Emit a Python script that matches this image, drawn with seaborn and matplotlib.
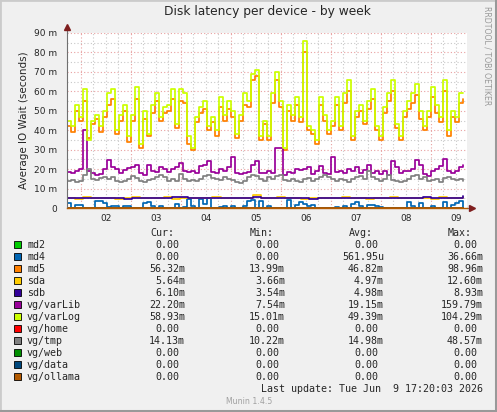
import numpy as np
import pandas as pd
import seaborn as sns
import matplotlib.pyplot as plt
from matplotlib.patches import Rectangle

# series in munin draw order (later ones end up on top)
series_names = ["md2", "md4", "md5", "sda", "sdb", "vg/varLib", "vg/varLog",
                "vg/home", "vg/tmp", "vg/web", "vg/data", "vg/ollama"]
series_colors = ["#00CC00", "#0066B3", "#FF8000", "#FFCC00", "#330099", "#990099",
                 "#CCFF00", "#FF0000", "#808080", "#008F00", "#00487D", "#B35A00"]

# values in milliseconds (week: Jun 1 17:20 -> Jun 9 17:20)
md2 = [0.0, 0.0]
md4 = [2.4, 0, 1.5, 1.5, 0, 0, 0, 3.8, 3.5, 2.5, 0.5, 1, 1, 0, 1, 1, 0, 0, 0, 2.8, 3.2, 1, 0, 1, 0,
       0, 0, 2, 0, 0.5, 4.5, 1, 0, 4.5, 2, 5, 0, 0, 0.5, 1, 0, 1, 0, 0, 1, 3.5, 4, 0, 3.8, 0,
       1, 0, 0, 0, 0, 4, 0, 1.5, 3, 2, 1, 1.5, 0, 0, 0, 0, 0, 0.5, 0, 1, 0, 2, 3, 1, 0,
       1.5, 1.5, 1, 0.5, 0, 0, 0, 0, 0, 0, 3, 1, 0, 2.5, 0, 0, 1, 0, 0, 3, 0, 1.5, 2.5, 3.5, 0]
md5 = [42, 39, 50, 45, 55, 36, 43, 46, 39, 47, 53, 56, 38, 45, 50, 34, 45, 56, 31, 46, 37, 49, 55, 45, 49,
       50, 56, 41, 55, 54, 33, 30, 44, 49, 51, 40, 44, 37, 52, 45, 51, 47, 36, 45, 53, 52, 66, 68, 35, 43,
       35, 54, 66, 52, 30, 50, 45, 53, 44, 80, 40, 38, 33, 53, 45, 38, 42, 53, 40, 54, 60, 35, 47, 50, 43,
       51, 56, 40, 35, 49, 55, 60, 41, 35, 47, 51, 54, 58, 46, 40, 47, 57, 49, 44, 60, 37, 47, 44, 54, 56]
sda = [4.9, 4.8, 5.6, 4.9, 5.0, 4.9, 4.8, 5.0, 5.5, 4.9, 5.0, 4.9, 5.6, 4.8, 4.9, 5.0, 4.9, 5.0, 5.7, 4.9,
       5.0, 4.9, 5.0, 6.5, 5.0, 4.9, 5.6, 4.9, 5.0, 4.8, 4.9, 5.0, 5.0, 4.9, 5.5, 5.0, 4.9, 4.8, 5.0, 4.9,
       5.5, 4.9, 5.0, 4.9, 5.0, 4.8, 5.6, 4.9, 5.0, 5.6]
sdb = [5.0, 4.9, 5.1, 4.9, 5.0, 5.2, 5.0, 4.8, 4.9, 5.0, 5.1, 5.0, 4.9, 5.6, 5.8, 5.0, 4.9, 5.0, 5.1, 5.0,
       4.9, 5.0, 5.0, 5.9, 5.3, 5.0, 4.9, 5.0, 5.2, 5.0, 4.8, 4.9, 5.0, 5.1, 5.0, 4.9, 5.0, 5.0, 4.9, 5.1,
       5.0, 5.0, 4.9, 5.2, 5.5, 5.0, 4.9, 5.0, 5.1, 6.1]
var_lib = [18.5, 18, 19, 20, 40, 19, 18, 17, 17.5, 20, 24.5, 21, 20, 18, 19.5, 20.5, 21, 22, 18, 17, 22, 19, 18.5, 21, 20,
           18.5, 20, 21, 23, 19, 18.5, 19, 18, 21.5, 22, 24, 18.5, 18, 20, 19, 21, 26, 18, 17.5, 18, 18.5, 22, 24, 18, 18,
           19, 18, 31, 31, 17, 18.5, 18, 20, 19.5, 20, 21, 17.5, 19, 21.5, 18, 17.5, 26, 18.5, 19, 18, 20, 19, 21, 18, 19.5,
           22, 18, 19, 17.5, 19, 17, 24, 21, 18, 19, 19, 20, 24.5, 22, 17.5, 16.5, 19, 20, 21.5, 25, 19, 18, 19, 21, 22.2]
var_log = [45, 42, 53, 47, 61, 35, 45, 48, 42, 50, 59, 61, 40, 48, 53, 37, 48, 62, 33, 50, 38, 53, 59, 47, 52,
           53, 61, 43, 61, 59, 37, 31, 47, 52, 55, 42, 47, 40, 57, 48, 55, 50, 38, 48, 59, 55, 69, 71, 37, 45,
           37, 59, 70, 55, 31, 53, 48, 57, 47, 86, 42, 40, 35, 57, 48, 40, 45, 57, 42, 59, 66, 37, 50, 53, 45,
           55, 61, 42, 37, 52, 59, 66, 43, 37, 50, 55, 59, 64, 50, 42, 50, 62, 53, 47, 66, 40, 50, 47, 59, 58.9]
home = [0.0, 0.0]
tmp = [14, 14.5, 13.5, 14, 17, 20, 15, 14.5, 15.5, 16, 15, 16, 14, 13.5, 14, 15, 16.5, 15.5, 14, 13.5, 14.5, 15, 16, 17, 16,
       14, 15, 14, 17.5, 15, 14, 14.5, 14, 15, 16.5, 17, 15.5, 15, 14.5, 16, 15, 14.5, 13.5, 13, 14, 16, 17, 16.5, 15, 14,
       16, 15, 16.5, 17, 14.5, 14, 15, 14, 13.5, 15, 15.5, 14, 15, 16, 17, 16, 15, 14, 15, 14.5, 13.5, 15, 16, 16.5, 15,
       19, 16, 15, 14, 15, 17, 14.5, 14, 13.5, 14, 15, 16.5, 17, 15, 16, 14, 14.5, 15, 13.5, 15.5, 16, 15, 14.5, 15, 14.1]
web = [0.0, 0.0]
data = [0.0, 0.0]
ollama = [0.0, 0.0]
series_values = [md2, md4, md5, sda, sdb, var_lib, var_log, home, tmp, web, data, ollama]

# legend table
cur_vals = ["0.00", "0.00", "56.32m", "5.64m", "6.10m", "22.20m", "58.93m", "0.00", "14.13m", "0.00", "0.00", "0.00"]
min_vals = ["0.00", "0.00", "13.99m", "3.66m", "3.54m", "7.54m", "15.01m", "0.00", "10.22m", "0.00", "0.00", "0.00"]
avg_vals = ["0.00", "561.95u", "46.82m", "4.97m", "4.98m", "19.15m", "49.39m", "0.00", "14.98m", "0.00", "0.00", "0.00"]
max_vals = ["0.00", "36.66m", "98.96m", "12.60m", "8.93m", "159.79m", "104.29m", "0.00", "48.57m", "0.00", "0.00", "0.00"]

day_labels = ["02", "03", "04", "05", "06", "07", "08", "09"]
y_ticks = [0, 10, 20, 30, 40, 50, 60, 70, 80, 90]

start_h = 17 + 20 / 60   # hours since Jun 1 00:00
span_h = 8 * 24

rows = []
for name, vals in zip(series_names, series_values):
    n = len(vals)
    t = np.linspace(start_h, start_h + span_h * 0.99, n)
    rows.append(pd.DataFrame({"t": t, "value": vals, "series": name}))
df = pd.concat(rows, ignore_index=True)

W, H = 497, 412
sns.set_style("white")
plt.rcParams['font.family'] = ['DejaVu Sans']
fig = plt.figure(figsize=(W / 100, H / 100), dpi=100, facecolor="#F0F0F0")

# 3d-ish frame round the image
fig.patches.append(Rectangle((0, 0), 1, 1, transform=fig.transFigure, fill=False,
                             edgecolor="#CBCBCB", linewidth=2.0))
fig.add_artist(plt.Line2D([0, 1], [1.5 / H, 1.5 / H], transform=fig.transFigure,
                          color="#999999", linewidth=2.2))
fig.add_artist(plt.Line2D([1 - 1.5 / W, 1 - 1.5 / W], [0, 1], transform=fig.transFigure,
                          color="#999999", linewidth=2.2))

ax = fig.add_axes([67 / W, (H - 208) / H, 400 / W, 175 / H])
ax.set_facecolor("white")

# grid like rrdtool: gray minor, red major
for h in np.arange(24, start_h + span_h, 6):
    major = (h % 24) == 0
    ax.axvline(h, color="#E8A0A0" if major else "#C8C8C8", lw=0.8,
               linestyle=(0, (1, 2)), zorder=0)
for v in np.arange(5, 91, 5):
    major = (v % 10) == 0
    ax.axhline(v, color="#E8A0A0" if major else "#C8C8C8", lw=0.8,
               linestyle=(0, (1, 2)), zorder=0)

sns.lineplot(data=df, x="t", y="value", hue="series", hue_order=series_names,
             palette=series_colors, estimator=None, sort=False, legend=False,
             drawstyle="steps-post", linewidth=1.25, ax=ax, zorder=2)

ax.set_xlim(start_h, start_h + span_h)
ax.set_ylim(0, 90)
ax.set_xlabel("")
ax.set_ylabel("Average IO Wait (seconds)", fontsize=7.5, labelpad=4)

ax.set_yticks(y_ticks)
ax.set_yticklabels([("%d m" % v) if v else "0" for v in y_ticks])
noons = [24 * (i + 1) + 12 for i in range(len(day_labels))]
ax.set_xticks(noons)
ax.set_xticklabels(day_labels)
ax.set_xticks(np.arange(24, start_h + span_h, 24), minor=True)
ax.tick_params(axis="x", which="major", length=0, labelsize=6.5, pad=4)
ax.tick_params(axis="x", which="minor", length=2, color="#C04040", direction="out")
ax.tick_params(axis="y", length=2, labelsize=6.5, pad=5, color="#808080")

for s in ["top", "right"]:
    ax.spines[s].set_visible(False)
ax.spines["left"].set_color("#707070")
ax.spines["left"].set_linewidth(0.8)
ax.spines["bottom"].set_color("#B35A00")
ax.spines["bottom"].set_linewidth(1.0)
ax.plot([0, 0], [1, 1.03], transform=ax.transAxes, color="#707070", lw=0.8, clip_on=False)
ax.plot([1, 1.01], [0, 0], transform=ax.transAxes, color="#707070", lw=0.8, clip_on=False)
ax.plot([0], [1.035], marker="^", markersize=4, color="#7F1F1F", transform=ax.transAxes, clip_on=False)
ax.plot([1.012], [0], marker=">", markersize=4, color="#7F1F1F", transform=ax.transAxes, clip_on=False)

# title and side text
fig.text(267 / W, 1 - 12 / H, "Disk latency per device - by week", ha="center", va="center", fontsize=8.8)
fig.text(487 / W, 1 - 56 / H, "RRDTOOL / TOBI OETIKER", rotation=270, ha="center", va="center",
         fontsize=5.6, color="#999999")

# legend table in monospace
mono = dict(family="DejaVu Sans Mono", fontsize=7.2, va="center")
cw = 6.0
for label, x in zip(["Cur:", "Min:", "Avg:", "Max:"], [150, 250, 349, 448]):
    fig.text(x / W, 1 - 233 / H, label, ha="left", **mono)
col_right = [185, 285, 384, 483]
for i, name in enumerate(series_names):
    y = 244.5 + 12 * i
    fig.patches.append(Rectangle((13.5 / W, 1 - (y + 3.8) / H), 7 / W, 7 / H, transform=fig.transFigure,
                                 facecolor=series_colors[i], edgecolor="black", linewidth=0.6))
    fig.text(27 / W, 1 - y / H, name, ha="left", **mono)
    for xr, col in zip(col_right, [cur_vals, min_vals, avg_vals, max_vals]):
        s = col[i]
        shift = 0 if s[-1].isalpha() else cw
        fig.text((xr - shift) / W, 1 - y / H, s, ha="right", **mono)

fig.text(483 / W, 1 - 388.5 / H, "Last update: Tue Jun  9 17:20:03 2026", ha="right", **mono)
fig.text(249 / W, 1 - 401.5 / H, "Munin 1.4.5", ha="center", va="center", fontsize=5.6, color="#A0A0A0")

fig.savefig("out.png", dpi=100, facecolor=fig.get_facecolor())
